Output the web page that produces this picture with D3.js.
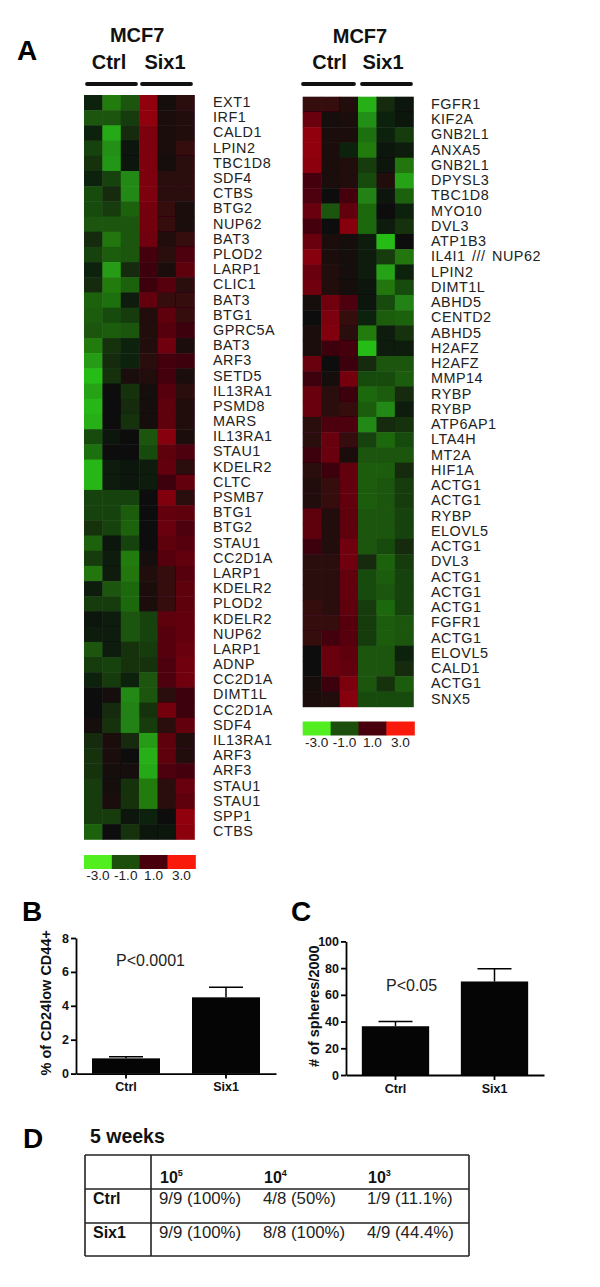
<!DOCTYPE html>
<html>
<head>
<meta charset="utf-8">
<script src="https://cdnjs.cloudflare.com/ajax/libs/d3/7.8.5/d3.min.js"></script>
<style>
  html, body { margin: 0; padding: 0; background: #fff; }
  text { font-family: "Liberation Sans", Arial, sans-serif; fill: #111; }
  .gene { font-size: 14.4px; letter-spacing: 0.5px; word-spacing: 2px; fill: #222; }
  .axis path, .axis line { stroke: #000; stroke-width: 1.8; }
  .axis text { font-size: 12.5px; font-weight: bold; fill: #111; }
</style>
</head>
<body>
<div id="chart"></div>
<script>
const sampleColumns = ['c1', 'c2', 'c3', 's1', 's2', 's3'];

const leftGenes = ['EXT1','IRF1','CALD1','LPIN2','TBC1D8','SDF4','CTBS','BTG2','NUP62','BAT3','PLOD2','LARP1','CLIC1','BAT3','BTG1','GPRC5A','BAT3','ARF3','SETD5','IL13RA1','PSMD8','MARS','IL13RA1','STAU1','KDELR2','CLTC','PSMB7','BTG1','BTG2','STAU1','CC2D1A','LARP1','KDELR2','PLOD2','KDELR2','NUP62','LARP1','ADNP','CC2D1A','DIMT1L','CC2D1A','SDF4','IL13RA1','ARF3','ARF3','STAU1','STAU1','SPP1','CTBS'];

const leftValues = [
  [-0.3,-1.5,-0.9,1.9,0.1,0.4],
  [-0.9,-0.9,-0.6,1.9,0.2,0.3],
  [-0.3,-2.2,-0.4,1.5,0.2,0.3],
  [-0.7,-1.8,-0.1,1.5,0.2,0.5],
  [-0.5,-1.9,-0.1,1.5,0.1,0.4],
  [-0.3,-0.7,-1.7,1.5,0.4,0.4],
  [-0.8,-0.4,-1.7,1.5,0.4,0.4],
  [-0.8,-0.6,-1.1,1.4,0.5,0.2],
  [-0.9,-0.9,-0.9,1.4,0.5,0.2],
  [-0.4,-1.4,-0.9,1.3,0.3,0.5],
  [-0.7,-1.0,-0.9,0.7,0.4,0.8],
  [-0.3,-2.0,-0.4,0.6,0.2,1.0],
  [-0.4,-1.5,-1.1,0.6,0.9,0.4],
  [-1.1,-1.3,-0.2,1.1,0.5,0.5],
  [-1.0,-0.8,-0.6,0.3,1.0,0.5],
  [-0.9,-1.0,-0.9,0.3,0.9,0.6],
  [-1.5,-0.5,-0.3,0.3,1.3,0.2],
  [-2.0,-0.4,-0.3,0.4,0.7,0.6],
  [-2.5,-0.5,0.2,0.3,0.7,0.2],
  [-2.1,0.0,-0.5,0.1,0.9,0.4],
  [-2.4,0.0,-0.4,0.1,1.0,0.3],
  [-2.3,0.0,-0.5,0.1,1.0,0.3],
  [-0.8,-0.1,0.0,-0.9,1.7,0.2],
  [-1.3,0.0,0.0,-0.8,1.0,0.8],
  [-2.4,-0.2,-0.1,-0.2,1.1,0.4],
  [-2.4,-0.2,-0.1,-0.2,0.6,1.1],
  [-0.7,-0.7,-0.7,0.0,1.6,0.4],
  [-0.7,-0.7,-1.0,0.0,1.1,1.0],
  [-0.5,-0.7,-1.1,0.0,1.2,0.8],
  [-1.1,-0.1,-0.7,0.0,1.0,0.9],
  [-0.6,-0.2,-1.5,0.1,0.9,1.1],
  [-1.4,-0.2,-1.4,0.3,0.5,0.9],
  [-0.2,-0.9,-1.2,0.2,0.5,1.0],
  [-0.6,-0.6,-1.2,0.2,0.5,1.0],
  [-0.1,-0.2,-0.9,-0.7,1.0,1.1],
  [-0.2,-0.2,-0.9,-0.7,0.9,1.1],
  [-0.9,-0.2,-0.5,-0.6,0.9,1.2],
  [-0.6,-0.7,-0.5,-0.5,0.8,1.3],
  [-0.3,-0.6,-0.3,-0.9,0.8,1.3],
  [0.0,0.1,-1.7,-0.9,0.4,0.6],
  [0.0,-0.4,-1.6,-0.5,1.4,0.6],
  [0.1,-0.5,-1.6,-0.6,0.4,1.1],
  [-0.4,0.2,-0.4,-2.0,1.0,0.3],
  [-0.5,0.2,0.0,-2.3,1.0,0.3],
  [-0.5,0.1,0.1,-2.2,0.8,0.7],
  [-0.6,0.1,-0.5,-1.5,0.4,1.2],
  [-0.6,0.2,-0.5,-1.5,0.4,1.0],
  [-0.6,-0.6,-0.1,-0.3,0.0,1.9],
  [-1.1,0.0,-0.5,-0.1,-0.1,1.8]
];

const rightGenes = ['FGFR1','KIF2A','GNB2L1','ANXA5','GNB2L1','DPYSL3','TBC1D8','MYO10','DVL3','ATP1B3','IL4I1 /// NUP62','LPIN2','DIMT1L','ABHD5','CENTD2','ABHD5','H2AFZ','H2AFZ','MMP14','RYBP','RYBP','ATP6AP1','LTA4H','MT2A','HIF1A','ACTG1','ACTG1','RYBP','ELOVL5','ACTG1','DVL3','ACTG1','ACTG1','ACTG1','FGFR1','ACTG1','ELOVL5','CALD1','ACTG1','SNX5'];

const rightValues = [
  [0.5,0.5,0.3,-2.3,-0.4,-0.1],
  [1.2,0.1,0.2,-1.8,-0.3,-0.1],
  [1.9,0.2,0.2,-1.3,-0.3,-0.6],
  [1.9,0.2,-0.3,-1.5,-0.1,-0.2],
  [1.8,0.2,0.3,-0.6,-0.1,-1.4],
  [0.7,0.2,0.3,-0.8,0.3,-2.1],
  [0.8,0.0,0.7,-1.6,-0.1,-1.1],
  [1.2,-0.9,1.1,-1.2,0.0,-0.3],
  [0.7,0.0,1.7,-1.2,-0.2,-0.5],
  [1.2,0.2,0.1,-0.2,-2.5,0.0],
  [1.7,0.2,0.1,-0.2,-0.6,-1.4],
  [1.2,0.3,0.1,-0.2,-2.1,-0.3],
  [1.3,0.3,0.1,-0.1,-1.4,-0.8],
  [0.1,1.3,0.8,-0.1,-0.8,-1.6],
  [0.0,1.5,0.5,-0.3,-1.0,-1.1],
  [0.2,1.6,0.4,-1.5,-0.2,-0.5],
  [0.2,0.6,0.7,-2.5,-0.2,-0.2],
  [1.2,0.0,0.6,-0.4,-0.9,-0.9],
  [0.6,0.1,1.4,-0.8,-0.8,-1.0],
  [1.2,0.4,0.6,-1.2,-1.0,-0.4],
  [1.2,0.4,0.5,-1.0,-1.7,-0.2],
  [0.4,0.8,0.8,-1.7,-0.4,-0.5],
  [0.4,1.2,0.5,-0.7,-1.2,-0.8],
  [0.6,1.2,0.2,-0.9,-0.9,-0.9],
  [0.4,0.6,1.1,-1.0,-1.0,-0.4],
  [0.3,0.5,1.1,-1.0,-0.9,-0.6],
  [0.3,0.5,1.1,-1.0,-0.9,-0.6],
  [1.0,0.3,1.0,-0.9,-0.9,-0.7],
  [1.0,0.3,1.0,-0.9,-0.9,-0.7],
  [0.6,0.3,1.3,-0.9,-0.8,-0.4],
  [0.4,0.4,1.3,-0.4,-1.1,-0.6],
  [0.4,0.4,1.1,-0.8,-1.0,-0.7],
  [0.4,0.4,1.1,-0.8,-0.9,-0.7],
  [0.5,0.4,1.0,-0.6,-1.2,-0.7],
  [0.5,0.5,0.9,-0.6,-1.0,-0.9],
  [0.5,0.7,0.9,-0.6,-1.0,-0.9],
  [0.0,1.2,1.0,-0.9,-0.9,-0.3],
  [0.0,1.2,1.1,-0.9,-0.9,-0.4],
  [0.1,0.6,1.5,-0.9,-0.5,-1.0],
  [0.2,0.3,1.7,-0.8,-0.8,-0.8]
];

const legendLabels = ['-3.0', '-1.0', '1.0', '3.0'];
const legendColors = ['#52ee20', '#1c4e0c', '#47000c', '#fa1a0c'];

const barGroups = ['Ctrl', 'Six1'];
const cd24Values = [0.9, 4.5];
const cd24Errors = [1.0, 5.1];
const cd24Ticks = [0, 2, 4, 6, 8];
const sphereValues = [36.5, 70];
const sphereErrors = [40, 79.5];
const sphereTicks = [0, 20, 40, 60, 80, 100];

const tableDoses = [5, 4, 3];
const tableRowNames = ['Ctrl', 'Six1'];
const tableCells = [
  ['9/9 (100%)', '4/8 (50%)', '1/9 (11.1%)'],
  ['9/9 (100%)', '8/8 (100%)', '4/9 (44.4%)']
];

const svg = d3.select('#chart').append('svg')
  .attr('width', 600)
  .attr('height', 1287)
  .style('display', 'block');

svg.append('defs').append('filter')
  .attr('id', 'soft')
  .append('feGaussianBlur')
  .attr('stdDeviation', 0.7);

const color = d3.scaleLinear()
  .domain([-3, -1, 0, 1, 3])
  .range(['#2cdc1a', '#1d5c0e', '#0a0a0a', '#5e0410', '#d00000']);

function drawHeatmap(genes, values, box) {
  const x = d3.scaleBand().domain(sampleColumns).range([box.x0, box.x1]);
  const y = d3.scaleBand().domain(d3.range(genes.length)).range([box.y0, box.y1]);
  const g = svg.append('g');

  const cells = g.append('g').attr('filter', 'url(#soft)');
  values.forEach((row, i) => {
    cells.selectAll(null)
      .data(row)
      .enter()
      .append('rect')
      .attr('x', (d, j) => x(sampleColumns[j]))
      .attr('y', y(i))
      .attr('width', x.bandwidth() + 0.5)
      .attr('height', y.bandwidth() + 0.5)
      .attr('fill', d => color(d));
  });

  g.selectAll('.gene')
    .data(genes)
    .enter()
    .append('text')
    .attr('class', 'gene')
    .attr('x', box.labelX)
    .attr('y', (d, i) => y(i) + y.bandwidth() / 2 + 4.5)
    .text(d => d);

  // Legend under the heatmap
  const lx = d3.scaleBand().domain(legendLabels).range([box.x0, box.x1 + 1]);
  g.selectAll('.legend-cell')
    .data(legendLabels)
    .enter()
    .append('rect')
    .attr('x', d => lx(d))
    .attr('y', box.legendY)
    .attr('width', lx.bandwidth() + 0.5)
    .attr('height', 14)
    .attr('fill', (d, i) => legendColors[i]);

  g.selectAll('.legend-label')
    .data(legendLabels)
    .enter()
    .append('text')
    .attr('x', d => lx(d) + lx.bandwidth() / 2)
    .attr('y', box.legendY + 25)
    .attr('text-anchor', 'middle')
    .style('font-size', '13.6px')
    .style('fill', '#222')
    .text(d => d);

  // Header: title, group names and their rules
  const head = [
    {text: 'MCF7', cx: (box.x0 + box.x1) / 2 + box.titleShift, y: box.titleY},
    {text: 'Ctrl', cx: box.ctrlX, y: 69},
    {text: 'Six1', cx: box.sixX, y: 69}
  ];
  g.selectAll('.head')
    .data(head)
    .enter()
    .append('text')
    .attr('x', d => d.cx)
    .attr('y', d => d.y)
    .attr('text-anchor', 'middle')
    .style('font-size', '20px')
    .style('font-weight', 'bold')
    .text(d => d.text);

  g.selectAll('.rule')
    .data(box.rules)
    .enter()
    .append('line')
    .attr('x1', d => d[0])
    .attr('x2', d => d[1])
    .attr('y1', 84)
    .attr('y2', 84)
    .attr('stroke', '#111')
    .attr('stroke-width', 3.8)
    .attr('stroke-linecap', 'round');
}

drawHeatmap(leftGenes, leftValues, {
  x0: 84, x1: 194.3, y0: 95, y1: 839.3, labelX: 213, legendY: 855,
  titleY: 42, titleShift: -2, ctrlX: 109, sixX: 165, rules: [[87, 136], [142, 191]]
});
drawHeatmap(rightGenes, rightValues, {
  x0: 302.7, x1: 413.3, y0: 96.7, y1: 706.7, labelX: 431, legendY: 721.5,
  titleY: 43, titleShift: 2, ctrlX: 329.5, sixX: 383, rules: [[303, 354], [362, 411]]
});

function drawBars(values, errors, ticks, box) {
  const x = d3.scaleBand()
    .domain(barGroups)
    .range([box.x0, box.x1])
    .paddingInner(0.32)
    .paddingOuter(0.16);
  const y = d3.scaleLinear()
    .domain([0, d3.max(ticks)])
    .range([box.y0, box.y1]);
  const g = svg.append('g');

  g.selectAll('.bar')
    .data(values)
    .enter()
    .append('rect')
    .attr('x', (d, i) => x(barGroups[i]))
    .attr('y', d => y(d))
    .attr('width', x.bandwidth())
    .attr('height', d => y(0) - y(d))
    .attr('fill', '#050505');

  g.selectAll('.err')
    .data(errors)
    .enter()
    .append('line')
    .attr('x1', (d, i) => x(barGroups[i]) + x.bandwidth() / 2)
    .attr('x2', (d, i) => x(barGroups[i]) + x.bandwidth() / 2)
    .attr('y1', (d, i) => y(values[i]))
    .attr('y2', d => y(d))
    .attr('stroke', '#000')
    .attr('stroke-width', 1.5);

  g.selectAll('.cap')
    .data(errors)
    .enter()
    .append('line')
    .attr('x1', (d, i) => x(barGroups[i]) + x.bandwidth() / 2 - 17)
    .attr('x2', (d, i) => x(barGroups[i]) + x.bandwidth() / 2 + 17)
    .attr('y1', d => y(d))
    .attr('y2', d => y(d))
    .attr('stroke', '#000')
    .attr('stroke-width', 1.5);

  g.append('g')
    .attr('class', 'axis')
    .attr('transform', `translate(${box.x0},0)`)
    .call(d3.axisLeft(y).tickValues(ticks).tickSize(5).tickSizeOuter(0).tickPadding(2));

  g.append('g')
    .attr('class', 'axis')
    .attr('transform', `translate(0,${box.y0})`)
    .call(d3.axisBottom(x).tickSize(5).tickSizeOuter(0).tickPadding(4));

  g.append('text')
    .attr('transform', `translate(${box.labelX},${(box.y0 + box.y1) / 2 + box.labelShift}) rotate(-90)`)
    .attr('text-anchor', 'middle')
    .style('font-size', '14.5px')
    .style('font-weight', 'bold')
    .text(box.label);

  g.append('text')
    .attr('x', box.pX)
    .attr('y', box.pY)
    .style('font-size', '16px')
    .style('fill', '#222')
    .text(box.pText);
}

drawBars(cd24Values, cd24Errors, cd24Ticks, {
  x0: 76, x1: 276, y0: 1073.6, y1: 938, label: '% of CD24low CD44+', labelX: 51, labelShift: -3,
  pX: 116, pY: 966, pText: 'P<0.0001'
});
drawBars(sphereValues, sphereErrors, sphereTicks, {
  x0: 346, x1: 544, y0: 1075, y1: 941.4, label: '# of spheres/2000', labelX: 319, labelShift: -2,
  pX: 386, pY: 991, pText: 'P<0.05'
});

// Panel letters
const panelLetters = [['A', 17, 60], ['B', 22, 921], ['C', 291, 921], ['D', 23, 1148]];
svg.selectAll('.panel')
  .data(panelLetters)
  .enter()
  .append('text')
  .attr('x', d => d[1])
  .attr('y', d => d[2])
  .style('font-size', '28px')
  .style('font-weight', 'bold')
  .style('fill', '#000')
  .text(d => d[0]);

// Panel D table
const table = svg.append('g');
const tableLeft = 85, tableRight = 469, tableDivider = 151;
const rowLines = [1155, 1189, 1223, 1256];
const colX = [159, 263, 367];

table.append('text')
  .attr('x', 90)
  .attr('y', 1143)
  .style('font-size', '19.5px')
  .style('font-weight', 'bold')
  .text('5 weeks');

table.selectAll('.hline')
  .data(rowLines)
  .enter()
  .append('line')
  .attr('x1', tableLeft)
  .attr('x2', tableRight)
  .attr('y1', d => d)
  .attr('y2', d => d)
  .attr('stroke', '#222')
  .attr('stroke-width', 1.6);

table.selectAll('.vline')
  .data([tableLeft, tableDivider, tableRight])
  .enter()
  .append('line')
  .attr('x1', d => d)
  .attr('x2', d => d)
  .attr('y1', rowLines[0])
  .attr('y2', rowLines[3])
  .attr('stroke', '#222')
  .attr('stroke-width', 1.6);

const doseLabel = table.selectAll('.dose')
  .data(tableDoses)
  .enter()
  .append('text')
  .attr('x', (d, i) => colX[i] + 1)
  .attr('y', 1183)
  .style('font-size', '16px')
  .style('font-weight', 'bold');
doseLabel.append('tspan').text('10');
doseLabel.append('tspan')
  .attr('dy', -7)
  .style('font-size', '9px')
  .text(d => d);

table.selectAll('.row-name')
  .data(tableRowNames)
  .enter()
  .append('text')
  .attr('x', 93)
  .attr('y', (d, i) => rowLines[i + 1] + 15)
  .style('font-size', '16px')
  .style('font-weight', 'bold')
  .text(d => d);

tableCells.forEach((row, i) => {
  table.selectAll(null)
    .data(row)
    .enter()
    .append('text')
    .attr('x', (d, j) => colX[j])
    .attr('y', rowLines[i + 1] + 15)
    .style('font-size', '16.8px')
    .style('fill', '#222')
    .text(d => d);
});
</script>
</body>
</html>
